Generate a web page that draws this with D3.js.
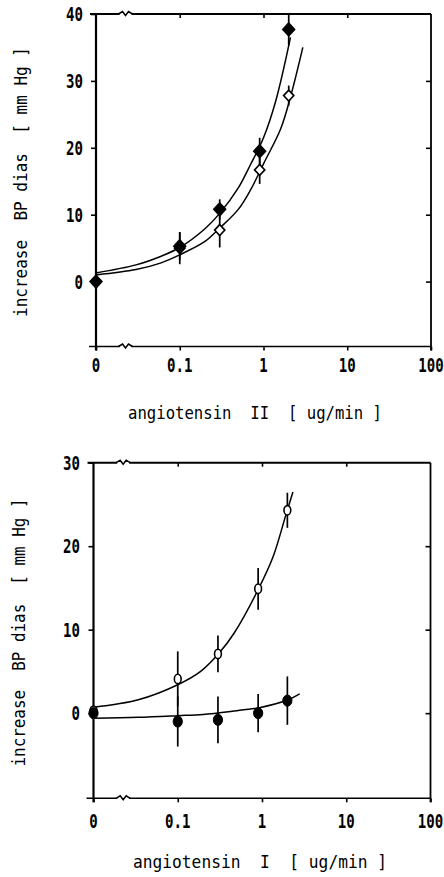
<!DOCTYPE html>
<html>
<head>
<meta charset="utf-8">
<script src="https://cdn.jsdelivr.net/npm/d3@7"></script>
<style>
body { margin: 0; background: #fff; }
svg { display: block; }
.tlabel { font-family: "DejaVu Sans Mono", monospace; font-size: 19px; font-weight: bold; fill: #000; }
.title { font-family: "DejaVu Sans Mono", monospace; font-size: 18px; fill: #000; }
</style>
</head>
<body>
<div id="chart"></div>
<script>
// dose steps in ug/min, 0 sits at the left end of the log axis
var doses = [0, 0.1, 0.3, 0.9, 2];

// angiotensin II (top panel)
var ang2Filled = [0, 5.3, 10.8, 19.5, 37.7];
var ang2FilledErr = [0, 2.1, 1.5, 2.0, 2.4];
var ang2Open = [0, 5.0, 7.7, 16.7, 27.8];
var ang2OpenErr = [0, 2.4, 2.6, 2.1, 1.5];

// fitted curves
var ang2FilledFitX = [0, 0.03, 0.06, 0.1, 0.2, 0.3, 0.5, 0.7, 1.0, 1.4, 2.1];
var ang2FilledFitY = [1.3, 2.5, 3.8, 5.1, 7.9, 10.2, 14.0, 17.5, 21.5, 27.0, 36.5];
var ang2OpenFitX = [0, 0.03, 0.06, 0.1, 0.2, 0.3, 0.5, 0.7, 1.0, 1.6, 2.1, 2.95];
var ang2OpenFitY = [1.0, 1.8, 2.8, 4.0, 6.0, 8.0, 10.8, 13.7, 17.6, 22.8, 27.6, 35];

// angiotensin I (bottom panel)
var ang1Open = [0.3, 4.1, 7.1, 14.9, 24.3];
var ang1OpenErr = [0, 3.3, 2.2, 2.5, 2.1];
var ang1Filled = [0, -1.0, -0.8, 0, 1.5];
var ang1FilledErr = [0, 3.0, 2.8, 2.3, 2.9];

var ang1OpenFitX = [0, 0.034, 0.1, 0.187, 0.31, 0.468, 0.89, 1.35, 1.94, 2.33];
var ang1OpenFitY = [0.7, 1.6, 3.4, 5.0, 7.2, 9.6, 14.7, 18.7, 23.9, 26.5];
var ang1FilledFitX = [0, 0.034, 0.1, 0.2, 0.5, 0.93, 2.04, 2.8];
var ang1FilledFitY = [-0.6, -0.5, -0.3, -0.15, 0.3, 0.65, 1.6, 2.3];

var xTickValues = [0, 0.1, 1, 10, 100];
var xTickLabels = ["0", "0.1", "1", "10", "100"];
var yTicksTop = [0, 10, 20, 30, 40];
var yTicksBottom = [0, 10, 20, 30];
var axisBreakAt = 0.0225;

var width = 444, height = 877;

var svg = d3.select("#chart").append("svg")
    .attr("width", width)
    .attr("height", height);

function zip(xs, ys) {
  return xs.map(function(v, i) { return [v, ys[i]]; });
}

function drawPanel(opt) {
  var g = svg.append("g");
  var x = d3.scaleLog().domain([0.01, 100]).range(opt.xRange);
  var y = d3.scaleLinear().domain(opt.yDomain).range(opt.yRange);
  var xp = function(v) { return v === 0 ? x(0.01) : x(v); };
  var x0 = opt.xRange[0], x1 = opt.xRange[1];
  var yB = opt.yRange[0], yT = opt.yRange[1];

  // frame
  var frame = [
    [x0, yT, x0, yB + 4, 2.2],
    [x0 - 6, yT, x1, yT, 2],
    [x1, yT, x1, yB + 4, 1.8],
    [x0 - 7, yB, x1, yB, 1.6]
  ];
  g.selectAll(".frame").data(frame).enter().append("line")
      .attr("x1", d => d[0]).attr("y1", d => d[1])
      .attr("x2", d => d[2]).attr("y2", d => d[3])
      .attr("stroke", "#000").attr("stroke-width", d => d[4]);

  // axis break marks on top and bottom border
  [yT, yB].forEach(function(yy) {
    var bx = x(axisBreakAt);
    g.append("line").attr("x1", bx - 6).attr("x2", bx + 6).attr("y1", yy).attr("y2", yy)
        .attr("stroke", "#fff").attr("stroke-width", 3);
    g.append("path")
        .attr("d", "M" + (bx - 7) + "," + yy + " L" + (bx - 3) + "," + (yy - 2.5) +
                   " L" + bx + "," + (yy + 1.5) + " L" + (bx + 3) + "," + (yy - 2.5) +
                   " L" + (bx + 7) + "," + yy)
        .attr("fill", "none").attr("stroke", "#000").attr("stroke-width", 1.5);
  });

  // ticks
  var tickStyle = function(sel) {
    sel.select(".domain").remove();
    sel.selectAll(".tick line").attr("stroke", "#000").attr("stroke-width", 1.6);
  };
  g.append("g").attr("transform", "translate(" + x0 + ",0)")
      .call(d3.axisLeft(y).tickValues(opt.yTicks).tickSize(5).tickFormat(""))
      .call(tickStyle);
  g.append("g").attr("transform", "translate(" + x1 + ",0)")
      .call(d3.axisLeft(y).tickValues(opt.yTicks.filter(v => v < opt.yDomain[1])).tickSize(5).tickFormat(""))
      .call(tickStyle);
  g.append("g").attr("transform", "translate(0," + yT + ")")
      .call(d3.axisBottom(x).tickValues([0.1, 1, 10]).tickSize(4).tickFormat(""))
      .call(tickStyle);
  g.append("g").attr("transform", "translate(0," + yB + ")")
      .call(d3.axisBottom(x).tickValues([0.01, 0.1, 1, 10, 100]).tickSize(4).tickFormat(""))
      .call(tickStyle);

  // tick labels
  g.selectAll(".xl").data(xTickValues).enter().append("text")
      .attr("class", "tlabel")
      .attr("text-anchor", "middle")
      .attr("transform", d => "translate(" + xp(d) + "," + opt.xLabelY + ") scale(0.74,1)")
      .text((d, i) => xTickLabels[i]);
  g.selectAll(".yl").data(opt.yTicks).enter().append("text")
      .attr("class", "tlabel")
      .attr("text-anchor", "end")
      .attr("transform", d => "translate(" + opt.yLabelX + "," + (y(d) + 7) + ") scale(0.74,1)")
      .text(d => d);

  // titles
  g.append("text").attr("class", "title")
      .attr("x", opt.xTitle[0]).attr("y", opt.xTitle[1])
      .attr("textLength", opt.xTitle[2]).attr("lengthAdjust", "spacingAndGlyphs")
      .attr("xml:space", "preserve")
      .text(opt.xTitleText);
  g.append("text").attr("class", "title")
      .attr("transform", "translate(" + opt.yTitle[0] + "," + opt.yTitle[1] + ") rotate(-90)")
      .attr("textLength", opt.yTitle[2]).attr("lengthAdjust", "spacingAndGlyphs")
      .attr("xml:space", "preserve")
      .text("increase  BP dias  [ mm Hg ]");

  // fitted curves
  var line = d3.line()
      .x(d => xp(d[0]))
      .y(d => y(d[1]))
      .curve(d3.curveCatmullRom.alpha(0.5));
  opt.fits.forEach(function(f) {
    g.append("path")
        .attr("d", line(zip(f[0], f[1])))
        .attr("fill", "none").attr("stroke", "#000").attr("stroke-width", 1.5);
  });

  // error bars
  var ymax = opt.yDomain[1];
  opt.series.forEach(function(s) {
    var pts = doses.map((d, i) => ({dose: d, v: s.vals[i], e: s.err[i]}))
        .filter(p => p.e > 0);
    g.selectAll(null).data(pts).enter().append("line")
        .attr("x1", p => xp(p.dose)).attr("x2", p => xp(p.dose))
        .attr("y1", p => y(Math.min(ymax, p.v + p.e)))
        .attr("y2", p => y(p.v - p.e))
        .attr("stroke", "#000").attr("stroke-width", 1.7);
  });

  // markers
  opt.series.forEach(function(s) {
    var sel = g.selectAll(null).data(doses).enter();
    if (s.shape === "diamond") {
      sel.append("path")
          .attr("d", d3.symbol(d3.symbolDiamond2, s.filled ? 100 : 66)())
          .attr("transform", (d, i) => "translate(" + xp(d) + "," + y(s.vals[i]) + ") scale(1,1.08)")
          .attr("fill", s.filled ? "#000" : "#fff")
          .attr("stroke", "#000").attr("stroke-width", s.filled ? 1 : 1.6);
    } else {
      sel.append("ellipse")
          .attr("cx", d => xp(d))
          .attr("cy", (d, i) => y(s.vals[i]))
          .attr("rx", s.filled ? 4.6 : 3.4)
          .attr("ry", s.filled ? 5.6 : 4.7)
          .attr("fill", s.filled ? "#000" : "#fff")
          .attr("stroke", "#000").attr("stroke-width", s.filled ? 1 : 1.6);
    }
  });
}

drawPanel({
  xRange: [96, 431],
  yDomain: [-9.7, 40],
  yRange: [346.5, 14],
  yTicks: yTicksTop,
  xLabelY: 372,
  yLabelX: 83,
  xTitle: [128, 419, 254],
  xTitleText: "angiotensin  II  [ ug/min ]",
  yTitle: [26.5, 317, 270],
  fits: [[ang2FilledFitX, ang2FilledFitY], [ang2OpenFitX, ang2OpenFitY]],
  series: [
    {vals: ang2Open, err: ang2OpenErr, shape: "diamond", filled: false},
    {vals: ang2Filled, err: ang2FilledErr, shape: "diamond", filled: true}
  ]
});

drawPanel({
  xRange: [93.5, 430.5],
  yDomain: [-10.2, 30],
  yRange: [798.3, 462.7],
  yTicks: yTicksBottom,
  xLabelY: 828,
  yLabelX: 80,
  xTitle: [133, 868, 254],
  xTitleText: "angiotensin  I  [ ug/min ]",
  yTitle: [25, 766.5, 268],
  fits: [[ang1OpenFitX, ang1OpenFitY], [ang1FilledFitX, ang1FilledFitY]],
  series: [
    {vals: ang1Open, err: ang1OpenErr, shape: "circle", filled: false},
    {vals: ang1Filled, err: ang1FilledErr, shape: "circle", filled: true}
  ]
});
</script>
</body>
</html>
